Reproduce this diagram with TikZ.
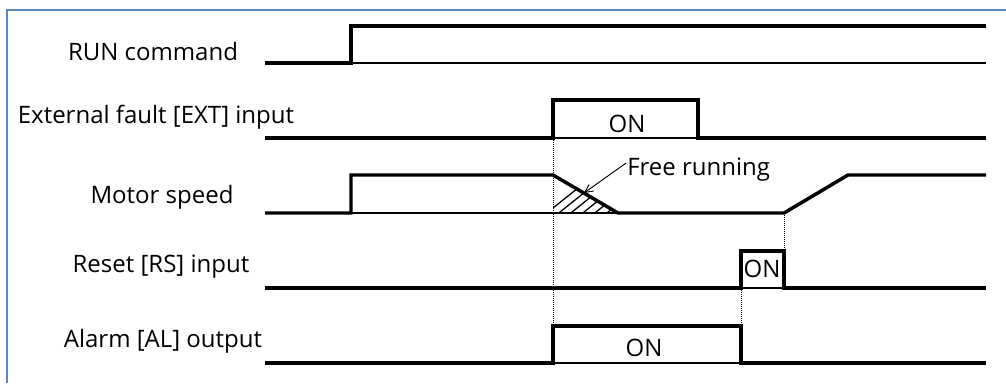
\documentclass[tikz,border=0pt]{standalone}
\usepackage{fontspec}
\setmainfont{Open Sans}
\usetikzlibrary{arrows.meta,positioning,calc}
\usepackage{xcolor}
\definecolor{frameblue}{HTML}{5A87C6}

\begin{document}
\begin{tikzpicture}[x=0.75pt, y=-0.75pt,
  sig/.style={line width=2.6pt, line join=miter},
  base/.style={line width=0.8pt},
  guide/.style={densely dotted, line width=0.5pt},
  lbl/.style={font=\fontsize{18}{21}\selectfont, inner sep=0pt, anchor=base}]
  \useasboundingbox (0,0) rectangle (1006,383);
  % frame (only top and left edges are in view)
  \draw[frameblue, line width=1.6pt] (7,383) -- (7,10) -- (1006,10);

  % Signal names
  \node[lbl] (run)   at (153,60)  {RUN command};
  \node[lbl] (ext)   at (156,123) {External fault [EXT] input};
  \node[lbl] (motor) at (162,203) {Motor speed};
  \node[lbl] (rst)   at (161,272) {Reset [RS] input};
  \node[lbl] (alm)   at (163,347) {Alarm [AL] output};

  % Guide lines
  \draw[guide] (553,138) -- (553,326);
  \draw[guide] (741,288) -- (741,326);
  \draw[guide] (784,213) -- (784,251);

  % RUN command
  \draw[base] (351,63) -- (986,63);
  \draw[sig] (265,63) -- (351,63) -- (351,26) -- (986,26);

  % External fault
  \draw[base] (553,138) -- (698,138);
  \draw[sig] (265,138) -- (553,138) -- (553,100) -- (698,100) -- (698,138) -- (986,138);
  \node[lbl] (exton) at (627,132) {ON};

  % Motor speed, hatched coasting area
  \begin{scope}
    \clip (553,175) -- (618,213) -- (553,213) -- cycle;
    \foreach \i in {0,...,6} {
      \draw[line width=1pt] (543+\i*12,216) -- ++(45,-36);
    }
  \end{scope}
  \draw[base] (351,213) -- (618,213);
  \draw[sig] (265,213) -- (351,213) -- (351,175) -- (553,175) -- (618,213)
    -- (784,213) -- (848,175) -- (986,175);
  \node[lbl, anchor=base west] (free) at (627,175) {Free running};
  \coordinate (coast) at (584,193);
  \draw[-{Straight Barb[length=6pt, width=6pt]}, line width=0.7pt]
    ($(free.west)+(-1,-6)$) -- (coast);

  % Reset
  \draw[base] (741,288) -- (784,288);
  \draw[sig] (265,288) -- (741,288) -- (741,251) -- (784,251) -- (784,288) -- (986,288);
  \node[lbl] (rston) at (762,277) {ON};

  % Alarm output
  \draw[base] (553,363) -- (741,363);
  \draw[sig] (265,363) -- (553,363) -- (553,326) -- (741,326) -- (741,363) -- (986,363);
  \node[lbl] (almon) at (644,356) {ON};
\end{tikzpicture}
\end{document}
